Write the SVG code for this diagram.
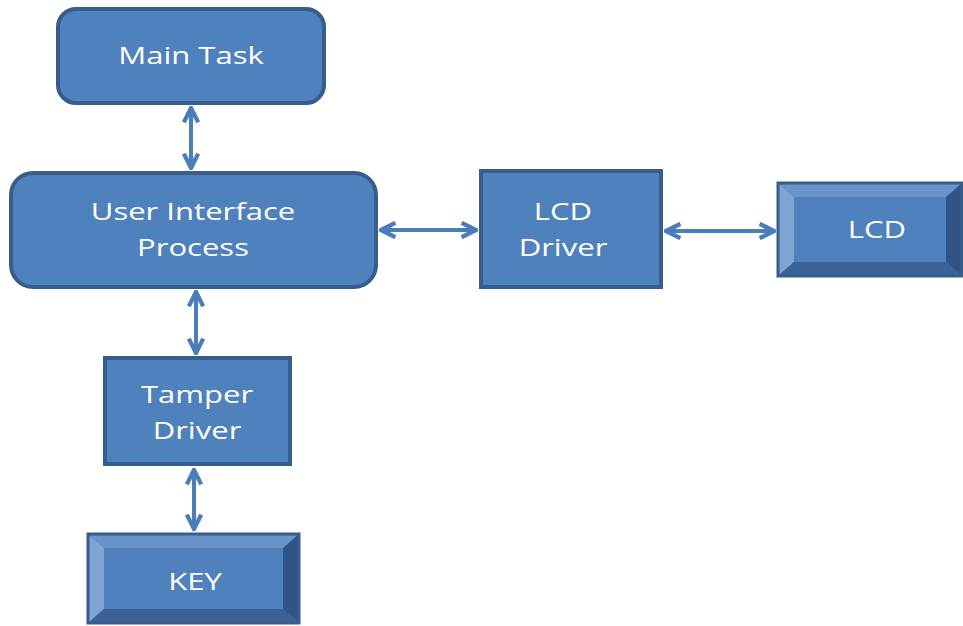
<svg xmlns="http://www.w3.org/2000/svg" width="963" height="626" viewBox="0 0 963 626">
<style>
.box{fill:#4F81BD;stroke:#385D8A;stroke-width:4}
.t{font-family:"Open Sans","Liberation Sans",sans-serif;font-size:23px;fill:#FFFFFF;text-anchor:middle}
.c{stroke:#4A7EBB;stroke-width:4;fill:none;marker-start:url(#a);marker-end:url(#a)}
.bl{fill:#7FA3D2}.bt{fill:#6A93C9}.br{fill:#2F5588}.bb{fill:#3A6299}
</style>
<defs>
<marker id="a" viewBox="0 0 10 10" refX="9" refY="5" markerWidth="4.5" markerHeight="4.5" orient="auto-start-reverse" markerUnits="strokeWidth">
<path d="M1,1 L9,5 L1,9" fill="none" stroke="#4A7EBB" stroke-width="2.4" stroke-linejoin="miter"/>
</marker>
</defs>
<g id="connectors">
<line class="c" x1="191" y1="108" x2="191" y2="168"/>
<line class="c" x1="196" y1="292" x2="196" y2="353"/>
<line class="c" x1="194" y1="470" x2="194" y2="529"/>
<line class="c" x1="381" y1="230" x2="476" y2="230"/>
<line class="c" x1="666" y1="231" x2="774" y2="231"/>
</g>
<g id="main-task">
<rect class="box" x="58" y="9" width="266" height="94" rx="18"/>
<text class="t" transform="translate(191,64) scale(1.35,1)">Main Task</text>
</g>
<g id="ui-process">
<rect class="box" x="11" y="173" width="365" height="114" rx="22"/>
<text class="t" transform="translate(193,220) scale(1.35,1)">User Interface</text>
<text class="t" transform="translate(193,256) scale(1.35,1)">Process</text>
</g>
<g id="lcd-driver">
<rect class="box" x="481" y="171" width="180" height="116"/>
<text class="t" transform="translate(563,220) scale(1.35,1)">LCD</text>
<text class="t" transform="translate(563,256) scale(1.35,1)">Driver</text>
</g>
<g id="lcd">
<rect x="778" y="183" width="184" height="93" fill="#4F81BD"/>
<polygon class="bl" points="778,183 794,197 794,262 778,276"/>
<polygon class="bt" points="778,183 962,183 946,197 794,197"/>
<polygon class="br" points="962,183 962,276 946,262 946,197"/>
<polygon class="bb" points="778,276 962,276 946,262 794,262"/>
<rect x="778" y="183" width="184" height="93" fill="none" stroke="#385D8A" stroke-width="3"/>
<text class="t" transform="translate(877,238) scale(1.35,1)">LCD</text>
</g>
<g id="tamper-driver">
<rect class="box" x="105" y="358" width="185" height="106"/>
<text class="t" transform="translate(197,403) scale(1.35,1)">Tamper</text>
<text class="t" transform="translate(197,439) scale(1.35,1)">Driver</text>
</g>
<g id="key">
<rect x="88" y="534" width="211" height="89" fill="#4F81BD"/>
<polygon class="bl" points="88,534 104,548 104,609 88,623"/>
<polygon class="bt" points="88,534 299,534 283,548 104,548"/>
<polygon class="br" points="299,534 299,623 283,609 283,548"/>
<polygon class="bb" points="88,623 299,623 283,609 104,609"/>
<rect x="88" y="534" width="211" height="89" fill="none" stroke="#385D8A" stroke-width="3"/>
<text class="t" transform="translate(195,590) scale(1.35,1)">KEY</text>
</g>
</svg>
